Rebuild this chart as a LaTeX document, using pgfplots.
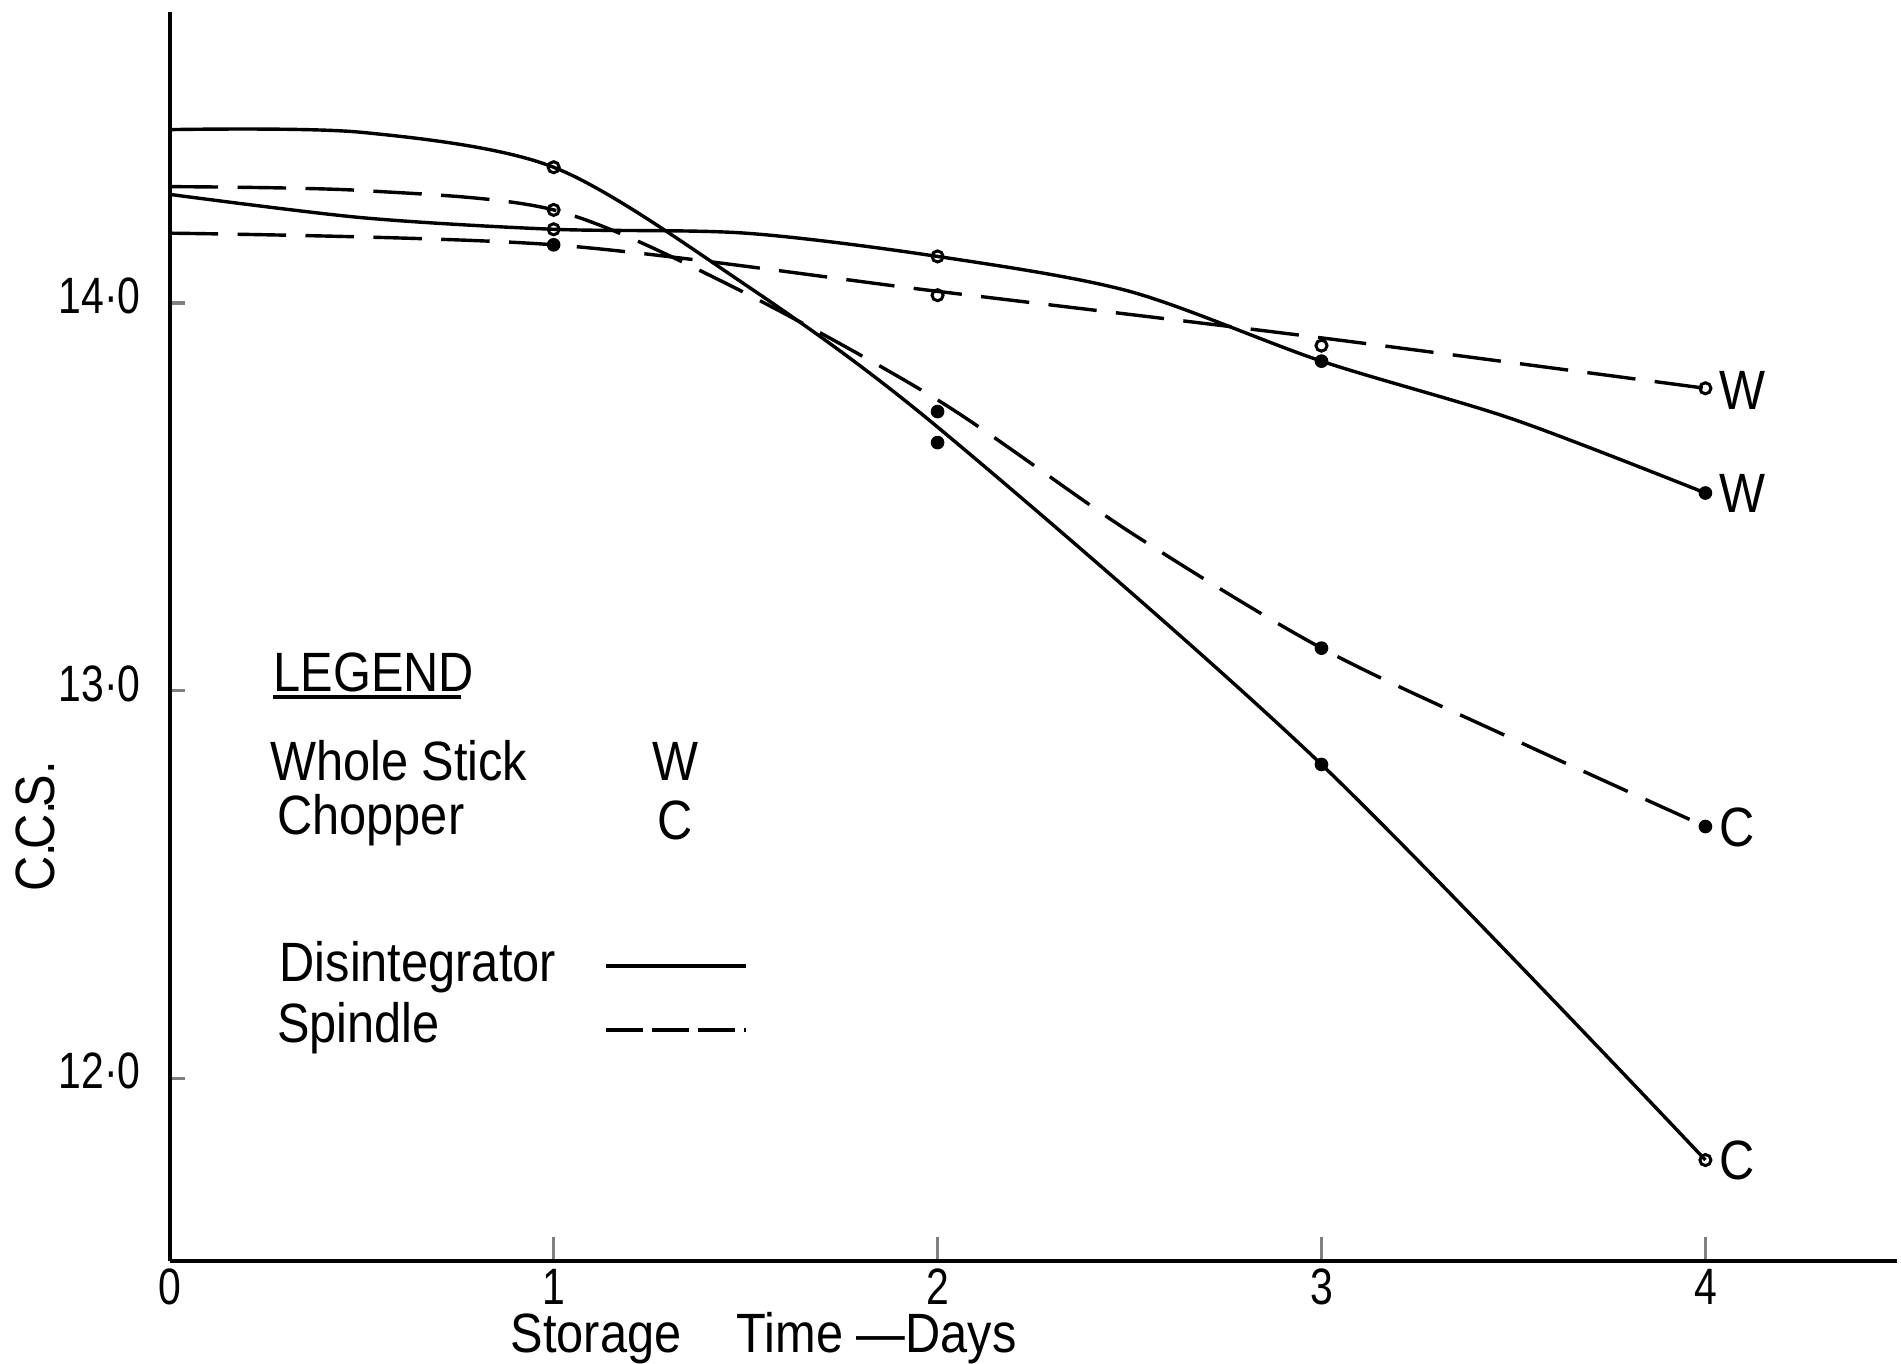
\documentclass[border=0pt]{standalone}
\usepackage{fontspec}
\setmainfont{Liberation Sans}[FakeStretch=0.88]
\newfontfamily\tickfont{Liberation Sans}[FakeStretch=0.8]
\usepackage{pgfplots}
\pgfplotsset{compat=1.18}
\begin{document}
\fontsize{13}{15}\selectfont
\begin{tikzpicture}
\begin{axis}[
  at={(0,0)}, anchor=south west,
  scale only axis, width=14.25cm, height=10.30cm,
  xmin=0, xmax=4.5, ymin=11.53, ymax=14.75,
  axis x line=bottom, axis y line=left,
  axis line style={-, line width=0.9pt},
  tick align=inside,
  xtick={0,1,2,3,4}, xticklabels={0,1,2,3,4},
  ytick={12,13,14}, yticklabels={12·0,13·0,14·0},
  xtick style={line width=0.8pt, /pgfplots/major tick length=0.2cm},
  ytick style={line width=0.8pt, /pgfplots/major tick length=0.13cm},
  ticklabel style={font=\tickfont\fontsize{12}{14}\selectfont},
  yticklabel style={xshift=-0.08cm, yshift=0.06cm},
  xticklabel style={yshift=0.09cm},
  clip=false,
]
% Disintegrator C (solid)
\addplot[black, line width=0.8pt, smooth, no marks] coordinates {
 (0,14.447) (0.5,14.44) (1,14.35) (1.48,14.06) (2,13.68) (3,12.81) (4,11.79)};
% Disintegrator W (solid)
\addplot[black, line width=0.8pt, smooth, no marks] coordinates {
 (0,14.28) (0.5,14.22) (1,14.19) (1.5,14.18) (2,14.12) (2.5,14.03) (3,13.85) (3.5,13.70) (4,13.51)};
% Spindle C (dashed)
\addplot[black, line width=0.8pt, smooth, no marks, dash pattern=on 0.4cm off 0.16cm] coordinates {
 (0,14.30) (0.5,14.29) (1,14.24) (1.45,14.05) (2,13.75) (2.5,13.41) (3,13.11) (3.5,12.875) (4,12.65)};
% Spindle W (dashed)
\addplot[black, line width=0.8pt, smooth, no marks, dash pattern=on 0.4cm off 0.16cm] coordinates {
 (0,14.18) (1,14.15) (2,14.03) (3,13.91) (4,13.78)};
% open markers
\addplot[only marks, mark=o, mark size=1.3pt, black, line width=0.7pt] coordinates {
 (1,14.35) (1,14.24) (1,14.19) (2,14.12) (2,14.02) (3,13.89) (4,13.78) (4,11.79)};
% filled markers
\addplot[only marks, mark=*, mark size=1.4pt, black] coordinates {
 (1,14.15) (2,13.72) (2,13.64) (3,13.85) (3,13.11) (3,12.81) (4,13.51) (4,12.65)};
% end labels
\node[anchor=west, inner sep=0pt] at (axis cs:4.035,13.775) {W};
\node[anchor=west, inner sep=0pt] at (axis cs:4.035,13.51) {W};
\node[anchor=west, inner sep=0pt] at (axis cs:4.035,12.647) {C};
\node[anchor=west, inner sep=0pt] at (axis cs:4.035,11.79) {C};
% legend
\node[anchor=west, inner sep=0pt] at (axis cs:0.268,13.047) {LEGEND};
\draw[line width=0.8pt] (axis cs:0.268,12.984) -- (axis cs:0.758,12.984);
\node[anchor=west, inner sep=0pt] at (axis cs:0.259,12.819) {Whole Stick};
\node[inner sep=0pt] at (axis cs:1.317,12.819) {W};
\node[anchor=west, inner sep=0pt] at (axis cs:0.278,12.666) {Chopper};
\node[inner sep=0pt] at (axis cs:1.317,12.666) {C};
\node[anchor=west, inner sep=0pt] at (axis cs:0.284,12.2875) {Disintegrator};
\draw[line width=0.8pt] (axis cs:1.137,12.29) -- (axis cs:1.50,12.29);
\node[anchor=west, inner sep=0pt] at (axis cs:0.278,12.131) {Spindle};
\draw[line width=0.8pt, dash pattern=on 0.3cm off 0.08cm] (axis cs:1.137,12.125) -- (axis cs:1.50,12.125);
% axis labels
\node[inner sep=0pt] at (axis cs:1.547,11.33) {Storage\quad Time —Days};
\node[rotate=90, inner sep=0pt] at (axis cs:-0.35,12.65) {C.\kern-1.5pt C.\kern-1.5pt S.};
\end{axis}
\pgfresetboundingbox
\path[use as bounding box] (-1.40,-0.85) rectangle (14.28,10.40);
\end{tikzpicture}
\end{document}
